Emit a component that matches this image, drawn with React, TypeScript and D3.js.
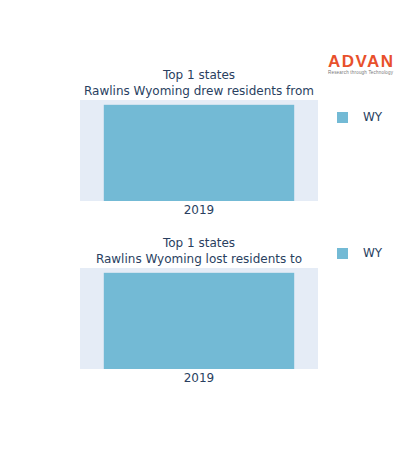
import * as d3 from 'd3';

// ─── Data ───────────────────────────────────────────────────
const years = ['2019'];
const drewFromStates = ['WY'];
const drewFromValues = [1];
const lostToStates = ['WY'];
const lostToValues = [1];

const titlesTop = ['Top 1 states', 'Rawlins Wyoming drew residents from'];
const titlesBottom = ['Top 1 states', 'Rawlins Wyoming lost residents to'];

// ─── Style ──────────────────────────────────────────────────
const W = 400;
const H = 450;
const FONT = '"DejaVu Sans", verdana, arial, sans-serif';
const TEXT = '#2a3f5f';
const PLOT_BG = '#e5ecf6';
const BAR = '#73bad5';
const plotX: [number, number] = [80, 318];
const plotH = 101;

interface PanelProps {
  top: number;
  titles: string[];
  states: string[];
  values: number[];
  legendY: number;
}

function Panel({ top, titles, states, values, legendY }: PanelProps) {
  const x = d3.scaleBand<string>()
    .domain(years)
    .range(plotX)
    .paddingInner(0.2)
    .paddingOuter(0.1);
  const y = d3.scaleLinear()
    .domain([0, (d3.max(values) ?? 1) * 1.05])
    .range([top + plotH, top]);
  const cx = (plotX[0] + plotX[1]) / 2;

  return (
    <g>
      {titles.map((t, i) => (
        <text key={t} x={cx} y={top - 21 + i * 16} textAnchor="middle"
          fontSize={12} fill={TEXT} fontFamily={FONT}>{t}</text>
      ))}
      <rect x={plotX[0]} y={top} width={plotX[1] - plotX[0]} height={plotH} fill={PLOT_BG} />
      {values.map((v, i) => (
        <rect key={states[i]} x={x(years[i])} y={y(v)} width={x.bandwidth()}
          height={y(0) - y(v)} fill={BAR} />
      ))}
      {years.map((yr) => (
        <text key={yr} x={(x(yr) ?? 0) + x.bandwidth() / 2} y={top + plotH + 13}
          textAnchor="middle" fontSize={12} fill={TEXT} fontFamily={FONT}>{yr}</text>
      ))}
      {states.map((s, i) => (
        <g key={s} transform={`translate(337,${legendY + i * 19})`}>
          <rect width={11} height={11} fill={BAR} />
          <text x={26} y={8} dy="0.1em" fontSize={12} fill={TEXT} fontFamily={FONT}>{s}</text>
        </g>
      ))}
    </g>
  );
}

export default function App() {
  return (
    <svg width={W} height={H} style={{ position: 'absolute', left: 0, top: 0, background: '#fff' }}>
      {/* logo */}
      <text x={328} y={67} fontSize={17} fontWeight="bold" fill="#e8502b"
        fontFamily="Arial, Liberation Sans, sans-serif" textLength={65}>ADVAN</text>
      <text x={328} y={74} fontSize={4.5} fill="#777" fontFamily="Arial, sans-serif"
        textLength={65}>Research through Technology</text>

      <Panel top={100} titles={titlesTop} states={drewFromStates} values={drewFromValues} legendY={112} />
      <Panel top={268} titles={titlesBottom} states={lostToStates} values={lostToValues} legendY={248} />
    </svg>
  );
}
